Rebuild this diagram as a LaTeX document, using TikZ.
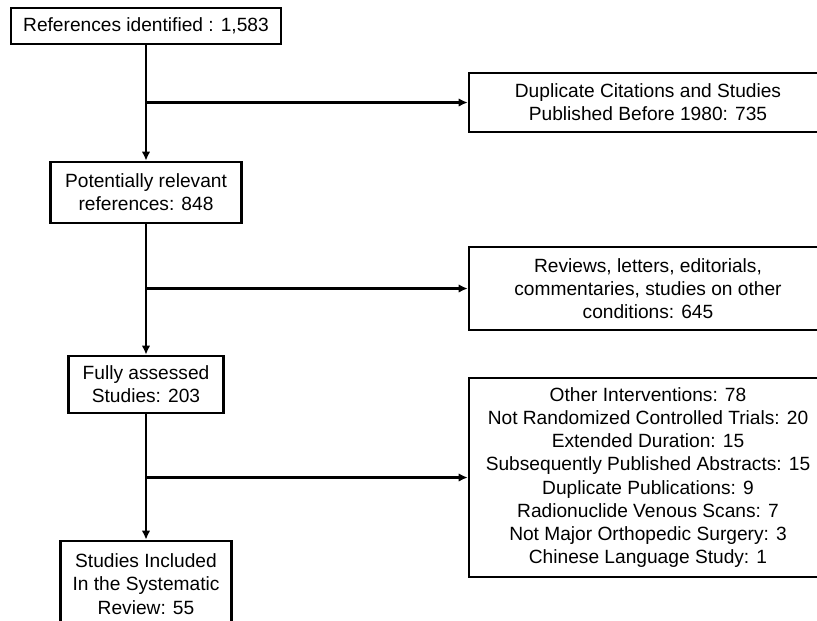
\documentclass[tikz,border=0pt]{standalone}
\usepackage{fontspec}
\setmainfont{Liberation Sans}
\usetikzlibrary{arrows.meta}

\begin{document}
\begin{tikzpicture}[
    box/.style={draw, line width=1.5pt, align=center, inner sep=0pt,
                font=\fontsize{10.9}{13.2}\selectfont},
    side/.style={box, minimum width=7.16cm},
    arrow/.style={-{Latex[length=1.8mm, width=1.7mm]}, line width=1.2pt}
]

% frame of the page, right boxes run off the edge
\useasboundingbox (0,0) rectangle (16.34,-12.4);
\clip (0,0) rectangle (16.34,-12.4);

% --- Main column ---
\node[box, minimum width=5.4cm, minimum height=0.72cm] (refs) at (2.92, -0.52)
    {References identified : 1,583};
\node[box, minimum width=3.82cm, minimum height=1.22cm] (relevant) at (2.92, -3.85)
    {Potentially relevant\\references: 848};
\node[box, minimum width=3.1cm, minimum height=1.14cm] (assessed) at (2.92, -7.69)
    {Fully assessed\\Studies: 203};
\node[box, minimum width=3.42cm, minimum height=1.72cm] (included) at (2.92, -11.68)
    {Studies Included\\In the Systematic\\Review: 55};

% --- Excluded (right column) ---
\node[side, minimum height=1.18cm] (dup) at (12.96, -2.05)
    {Duplicate Citations and Studies\\Published Before 1980: 735};
\node[side, minimum height=1.66cm] (reviews) at (12.96, -5.77)
    {Reviews, letters, editorials,\\commentaries, studies on other\\conditions: 645};
\node[side, minimum height=3.98cm] (other) at (12.96, -9.55)
    {Other Interventions: 78\\
     Not Randomized Controlled Trials: 20\\
     Extended Duration: 15\\
     Subsequently Published Abstracts: 15\\
     Duplicate Publications: 9\\
     Radionuclide Venous Scans: 7\\
     Not Major Orthopedic Surgery: 3\\
     Chinese Language Study: 1};

% Arrows down the main column
\draw[arrow] (refs.south) -- (relevant.north);
\draw[arrow] (relevant.south) -- (assessed.north);
\draw[arrow] (assessed.south) -- (included.north);

% Branches to the excluded boxes
\draw[arrow] (refs.south |- dup.west) -- (dup.west);
\draw[arrow] (relevant.south |- reviews.west) -- (reviews.west);
\draw[arrow] (assessed.south |- other.west) -- (other.west);

\end{tikzpicture}
\end{document}
